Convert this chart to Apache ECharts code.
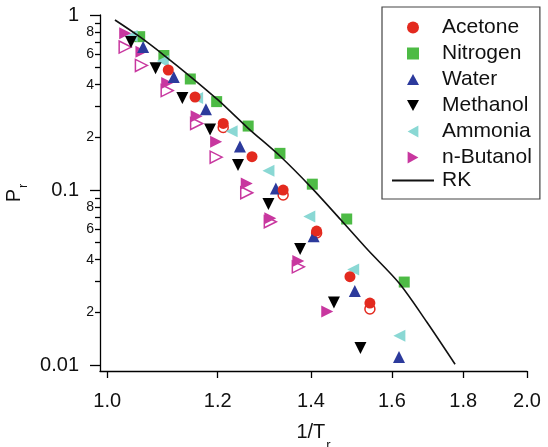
<!DOCTYPE html>
<html>
<head>
<meta charset="utf-8">
<script src="https://cdn.jsdelivr.net/npm/echarts@6/dist/echarts.min.js"></script>
<style>
html,body{margin:0;padding:0;background:#fff;}
#chart{width:548px;height:447px;}
</style>
</head>
<body>
<div id="chart"></div>
<script>
// ---- data ----
const N2_X = [1.055, 1.098, 1.147, 1.198, 1.262, 1.330, 1.403, 1.485, 1.633];
const N2_Y = [0.752, 0.587, 0.431, 0.320, 0.232, 0.162, 0.108, 0.0683, 0.0298];

const ACETONE_X = [1.106, 1.156, 1.211, 1.270, 1.337, 1.413, 1.493, 1.543];
const ACETONE_Y = [0.485, 0.340, 0.240, 0.155, 0.100, 0.0583, 0.0320, 0.0226];
const ACETONE_OPEN_X = [1.211, 1.337, 1.413, 1.543];
const ACETONE_OPEN_Y = [0.228, 0.0936, 0.0568, 0.0209];

const WATER_X = [1.061, 1.116, 1.177, 1.245, 1.321, 1.406, 1.505, 1.619];
const WATER_Y = [0.656, 0.442, 0.289, 0.177, 0.102, 0.0544, 0.0265, 0.0111];

const METHANOL_X = [1.040, 1.083, 1.132, 1.185, 1.241, 1.305, 1.375, 1.454, 1.519];
const METHANOL_Y = [0.701, 0.496, 0.336, 0.222, 0.139, 0.0832, 0.046, 0.0228, 0.0125];

const AMMONIA_X = [1.041, 1.096, 1.160, 1.228, 1.305, 1.396, 1.501, 1.620];
const AMMONIA_Y = [0.759, 0.546, 0.336, 0.217, 0.129, 0.0707, 0.0352, 0.0147];

const BUTANOL_X = [1.030, 1.058, 1.104, 1.159, 1.197, 1.259, 1.309, 1.371, 1.438];
const BUTANOL_Y = [0.786, 0.617, 0.409, 0.264, 0.189, 0.109, 0.0689, 0.0393, 0.0202];
const BUTANOL_OPEN_X = [1.030, 1.058, 1.104, 1.159, 1.197, 1.259, 1.309, 1.371];
const BUTANOL_OPEN_Y = [0.656, 0.515, 0.370, 0.240, 0.154, 0.0965, 0.0659, 0.0364];

const RK_X = [1.0128, 1.0555, 1.100, 1.146, 1.2006, 1.2615, 1.330, 1.402, 1.471, 1.538, 1.619, 1.695, 1.776];
const RK_Y = [0.936, 0.749, 0.583, 0.448, 0.327, 0.226, 0.1564, 0.1026, 0.0674, 0.0454, 0.0294, 0.0176, 0.0101];

const X_TICKS = [1.0, 1.2, 1.4, 1.6, 1.8, 2.0];
const Y_MAJOR = [0.01, 0.1, 1];
const Y_MAJOR_LABELS = ['0.01', '0.1', '1'];
const Y_MINOR = [0.02, 0.03, 0.04, 0.05, 0.06, 0.07, 0.08, 0.09, 0.2, 0.3, 0.4, 0.5, 0.6, 0.7, 0.8, 0.9];
const Y_MINOR_LABELED = [0.02, 0.04, 0.06, 0.08, 0.2, 0.4, 0.6, 0.8];

const MARKER_LEGEND_NAMES = ['Acetone', 'Nitrogen', 'Water', 'Methanol', 'Ammonia', 'n-Butanol'];
const LINE_LEGEND_NAMES = ['RK'];

// ---- build ----
const FONT = '"Liberation Sans", Arial, Helvetica, sans-serif';
const pts = (xs, ys) => xs.map((x, i) => [Math.log(x), Math.log10(ys[i])]);
const X_MIN = -0.012, X_MAX = Math.log(2);
const Y_MIN = -2.034, Y_MAX = 0;

const C_RED = '#e32a1f', C_GREEN = '#4dbb45', C_BLUE = '#2c3a9c', C_BLACK = '#000000',
      C_CYAN = '#8ad8d4', C_MAG = '#c8379f';

const ICON = {
  'Acetone': 'circle',
  'Nitrogen': 'path://M0,0 L10,0 L10,10 L0,10 Z',
  'Water': 'path://M5,0 L10,9 L0,9 Z',
  'Methanol': 'path://M0,0 L10,0 L5,9 Z',
  'Ammonia': 'path://M9,0 L9,10 L0,5 Z',
  'n-Butanol': 'path://M0,0 L0,10 L9,5 Z'
};

function filled(name, xs, ys, symbol, size, color, rot) {
  return {
    type: 'scatter', name: name, data: pts(xs, ys),
    symbol: symbol, symbolSize: size, symbolRotate: rot || 0, symbolKeepAspect: true,
    itemStyle: { color: color, opacity: 1 }, z: 3
  };
}
function hollow(name, xs, ys, symbol, size, color, rot) {
  return {
    type: 'scatter', name: name, data: pts(xs, ys),
    symbol: symbol, symbolSize: size, symbolRotate: rot || 0, symbolKeepAspect: true,
    itemStyle: { color: '#ffffff', borderColor: color, borderWidth: 1.5, opacity: 1 }, z: 2
  };
}

const axisLineStyle = { color: '#000', width: 1.3 };
const legendText = { fontFamily: FONT, fontSize: 21, color: '#111', lineHeight: 20 };

const option = {
  animation: false,
  backgroundColor: '#ffffff',
  textStyle: { fontFamily: FONT },
  grid: { left: 100, right: 21, top: 15, bottom: 76, containLabel: false, outerBoundsMode: 'none' },
  legend: [
    {
      data: MARKER_LEGEND_NAMES.map(n => ({ name: n, icon: ICON[n] })),
      orient: 'vertical',
      left: 382, top: 7,
      padding: [10, 8, 31, 25],
      itemWidth: 12, itemHeight: 12, itemGap: 5,
      symbolKeepAspect: true,
      borderColor: '#444', borderWidth: 1.2, borderRadius: 0,
      backgroundColor: '#fff',
      textStyle: Object.assign({ padding: [0, 0, 0, 18] }, legendText),
      z: 4
    },
    {
      data: LINE_LEGEND_NAMES.map(n => ({ name: n, icon: 'rect' })),
      orient: 'vertical',
      left: 392, top: 170,
      padding: 0,
      itemWidth: 42, itemHeight: 2,
      textStyle: Object.assign({ padding: [0, 0, 0, 3] }, legendText),
      z: 6
    }
  ],
  xAxis: {
    type: 'value', min: X_MIN, max: X_MAX,
    axisLine: { show: true, onZero: false, lineStyle: axisLineStyle },
    axisTick: { show: true, customValues: X_TICKS.map(Math.log), length: 7, lineStyle: axisLineStyle },
    axisLabel: {
      customValues: X_TICKS.map(Math.log),
      formatter: v => Math.exp(v).toFixed(1),
      fontSize: 20, margin: 20, color: '#111', fontFamily: FONT
    },
    splitLine: { show: false },
    name: '{a|1/T}{b|r}',
    nameLocation: 'middle', nameGap: 51, nameMoveOverlap: false,
    nameTextStyle: {
      rich: {
        a: { fontSize: 20, color: '#111', fontFamily: FONT, lineHeight: 30, verticalAlign: 'top' },
        b: { fontSize: 13, color: '#111', fontFamily: FONT, lineHeight: 30, verticalAlign: 'bottom', padding: [0, 0, 0, 1] }
      }
    }
  },
  yAxis: [
    {
      type: 'value', min: Y_MIN, max: Y_MAX, position: 'left',
      axisLine: { show: true, onZero: false, lineStyle: axisLineStyle },
      axisTick: { show: true, customValues: Y_MAJOR.map(Math.log10), length: 10, lineStyle: axisLineStyle },
      axisLabel: {
        customValues: Y_MAJOR.map(Math.log10),
        formatter: v => Y_MAJOR_LABELS[Math.round(v) + 2],
        fontSize: 20, margin: 21, color: '#111', fontFamily: FONT
      },
      splitLine: { show: false },
      name: '{a|P}{b|r}',
      nameLocation: 'middle', nameGap: 70, nameRotate: 90, nameMoveOverlap: false,
      nameTextStyle: {
        rich: {
          a: { fontSize: 20, color: '#111', fontFamily: FONT, lineHeight: 26, verticalAlign: 'top' },
          b: { fontSize: 13, color: '#111', fontFamily: FONT, lineHeight: 26, verticalAlign: 'bottom', padding: [0, 0, 0, 1] }
        }
      }
    },
    {
      type: 'value', min: Y_MIN, max: Y_MAX, position: 'left', offset: 0,
      axisLine: { show: false, onZero: false },
      axisTick: { show: true, customValues: Y_MINOR.map(Math.log10), length: 5, lineStyle: axisLineStyle },
      axisLabel: {
        customValues: Y_MINOR_LABELED.map(Math.log10),
        formatter: v => String(Math.round(Math.pow(10, v) / Math.pow(10, Math.floor(v + 1e-9)))),
        fontSize: 14, margin: 6, color: '#111', fontFamily: FONT
      },
      splitLine: { show: false }
    }
  ],
  series: [
    {
      type: 'line', name: 'RK', data: pts(RK_X, RK_Y), showSymbol: false, symbol: 'none',
      smooth: 0.3, lineStyle: { color: '#111', width: 1.6 }, itemStyle: { color: '#111' }, z: 4
    },
    hollow('Acetone (open)', ACETONE_OPEN_X, ACETONE_OPEN_Y, 'circle', 10, C_RED),
    hollow('n-Butanol (open)', BUTANOL_OPEN_X, BUTANOL_OPEN_Y, 'triangle', 12, C_MAG, -90),
    filled('Nitrogen', N2_X, N2_Y, 'rect', 11, C_GREEN),
    filled('Ammonia', AMMONIA_X, AMMONIA_Y, 'triangle', 12, C_CYAN, 90),
    filled('Methanol', METHANOL_X, METHANOL_Y, 'triangle', 12, C_BLACK, 180),
    filled('n-Butanol', BUTANOL_X, BUTANOL_Y, 'triangle', 12, C_MAG, -90),
    filled('Water', WATER_X, WATER_Y, 'triangle', 12, C_BLUE),
    filled('Acetone', ACETONE_X, ACETONE_Y, 'circle', 11, C_RED)
  ]
};

const chart = echarts.init(document.getElementById('chart'), null, { renderer: 'canvas' });
chart.setOption(option);
</script>
</body>
</html>
